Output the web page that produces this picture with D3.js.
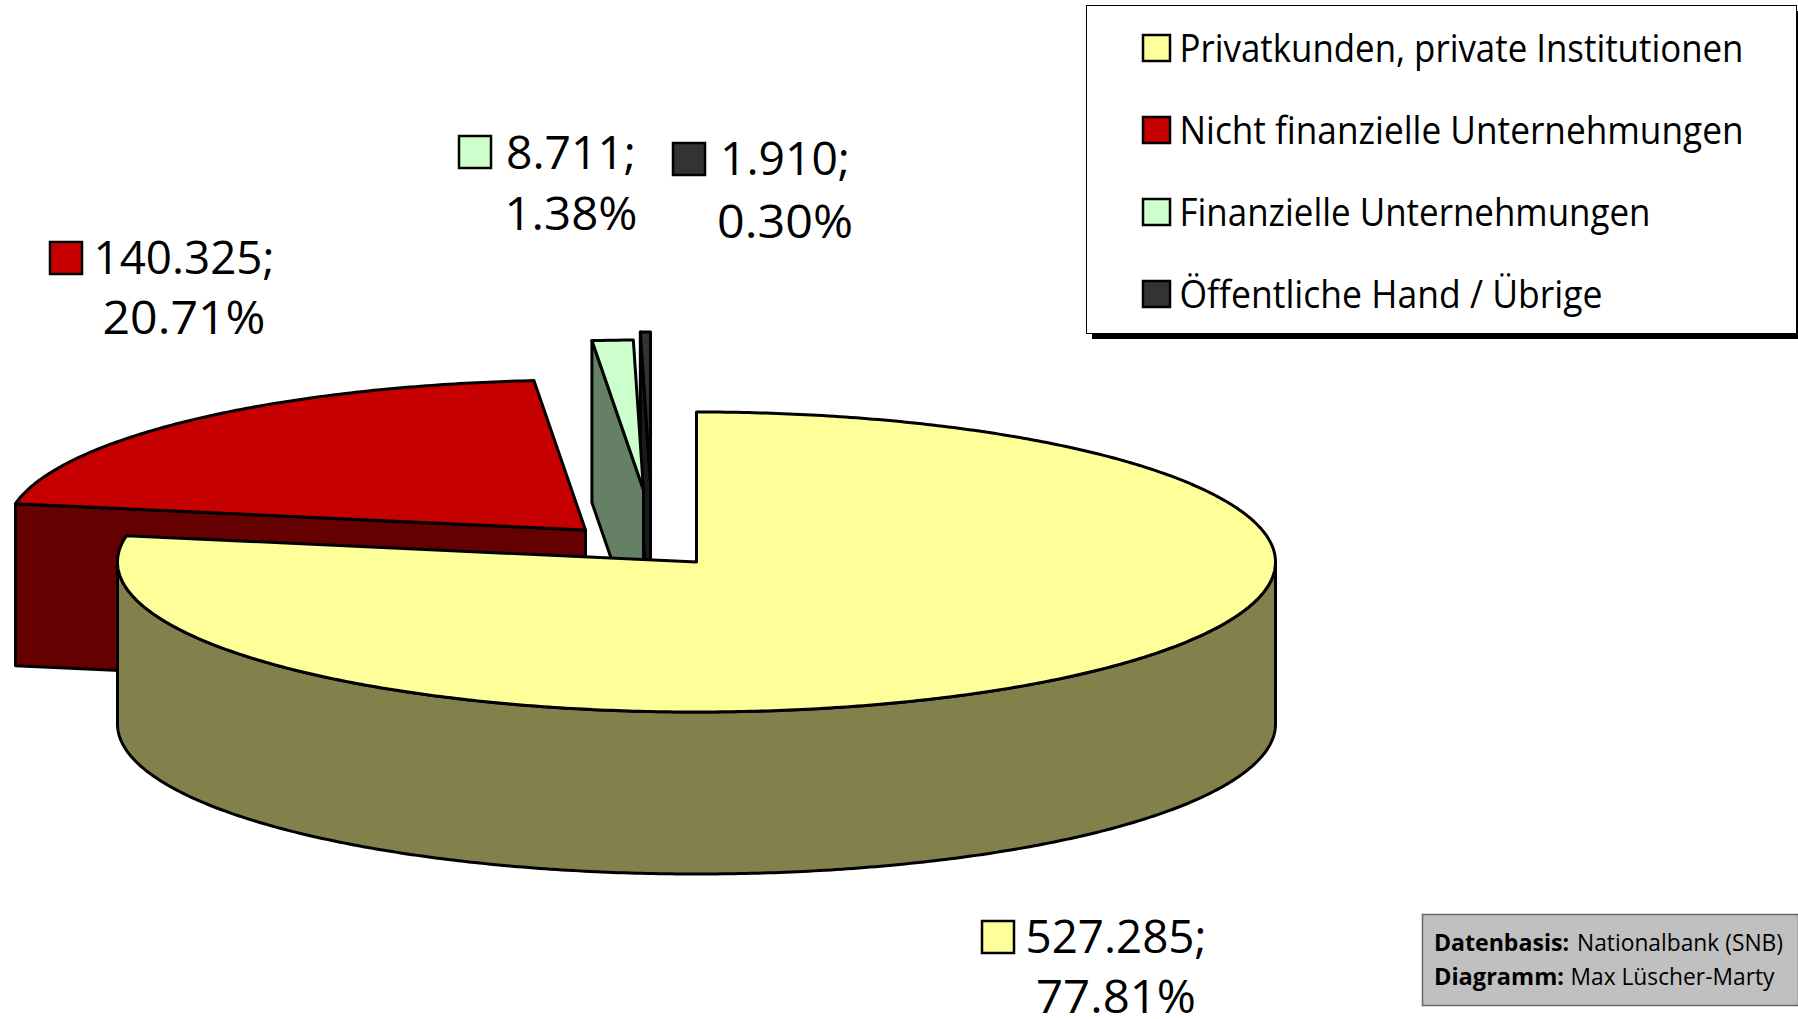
<!DOCTYPE html>
<html>
<head>
<meta charset="utf-8">
<script src="https://cdnjs.cloudflare.com/ajax/libs/d3/7.8.5/d3.min.js"></script>
<style>
    html, body { margin: 0; padding: 0; background: #fff; overflow: hidden; }
    svg { display: block; }
    text { font-family: "Open Sans", sans-serif; fill: #000; }
</style>
</head>
<body>
<svg id="chart" width="1798" height="1019"></svg>
<script>
const categories = ['Privatkunden, private Institutionen', 'Nicht finanzielle Unternehmungen', 'Finanzielle Unternehmungen', 'Öffentliche Hand / Übrige'];
const values = [527285, 140325, 8711, 1910];
const percentLabels = ['77.81%', '20.71%', '1.38%', '0.30%'];
// the printed numbers don't quite add up to the drawn angles, so the wedges use shares
const sliceShares = [77.81, 20.77, 1.14, 0.28];

const topColors = ['#ffff99', '#c60000', '#ccffcc', '#333333'];
const sideColors = ['#82814c', '#640000', '#668066', '#1a1a1a'];

// where each exploded slice ended up
const sliceOffsets = [[0, 0], [-111, -32], [-53, -72], [-46, -80]];

const labelLayout = [
    {swatchX: 982, swatchY: 921, cx: 1116, y1: 953, y2: 1013, w1: 181, w2: 160},
    {swatchX: 50, swatchY: 242, cx: 184, y1: 274, y2: 334, w1: 181, w2: 163},
    {swatchX: 459, swatchY: 136, cx: 571, y1: 169, y2: 230, w1: 130, w2: 133},
    {swatchX: 673, swatchY: 143, cx: 785, y1: 175, y2: 238, w1: 130, w2: 136}
];
const legendWidths = [564, 564, 471, 423];

const centerX = 696.5, centerY = 562, radiusX = 579, radiusY = 150, depth = 162;
const lineW = 3;

const svg = d3.select('#chart');

const pie = d3.pie().sort(null).value(d => d);
const slices = pie(sliceShares).map((d, i) => ({...d, i}));

const xUnit = d3.scaleLinear().domain([-1, 1]).range([centerX - radiusX, centerX + radiusX]);
const yUnit = d3.scaleLinear().domain([-1, 1]).range([centerY - radiusY, centerY + radiusY]);

const rimPoint = (angle, d) => [
    xUnit(Math.sin(angle)) + sliceOffsets[d.i][0],
    yUnit(-Math.cos(angle)) + sliceOffsets[d.i][1]
];
const tipPoint = (d) => [centerX + sliceOffsets[d.i][0], centerY + sliceOffsets[d.i][1]];
const drop = (p) => [p[0], p[1] + depth];

const rimPoints = (from, to, d) => {
    const n = Math.max(2, Math.ceil(Math.abs(to - from) / 0.01));
    return d3.range(n + 1).map(k => rimPoint(from + (to - from) * k / n, d));
};

const outline = d3.line();

const drawShape = (g, points, fill) => {
    g.append('path')
        .attr('d', outline(points) + 'Z')
        .attr('fill', fill)
        .attr('stroke', '#000')
        .attr('stroke-width', lineW)
        .attr('stroke-linejoin', 'round');
};

const pieLayer = svg.append('g').attr('class', 'pie');

// back to front: red, dark, green, then the big yellow slice over them
[1, 3, 2, 0].forEach(i => {
    const d = slices[i];
    const g = pieLayer.append('g').attr('class', `slice slice${i}`);

    if (i === 0) {
        // curved front wall, only the half facing us
        const front = rimPoints(Math.PI / 2, 3 * Math.PI / 2, d);
        drawShape(g, [...front, ...front.map(drop).reverse()], sideColors[i]);
    } else {
        // the cut face on the start side of the slice
        const rim = rimPoint(d.startAngle, d);
        const tip = tipPoint(d);
        drawShape(g, [rim, tip, drop(tip), drop(rim)], sideColors[i]);
    }

    drawShape(g, [tipPoint(d), ...rimPoints(d.startAngle, d.endAngle, d)], topColors[i]);
});

// data labels
const formatValue = d3.formatLocale({decimal: ',', thousands: '.', grouping: [3], currency: ['', '']}).format(',d');

const labels = svg.append('g').attr('class', 'labels')
    .selectAll('g')
    .data(values)
    .enter().append('g');

labels.append('rect')
    .attr('x', (d, i) => labelLayout[i].swatchX)
    .attr('y', (d, i) => labelLayout[i].swatchY)
    .attr('width', 32)
    .attr('height', 32)
    .attr('fill', (d, i) => topColors[i])
    .attr('stroke', '#000')
    .attr('stroke-width', 2.5);

labels.append('text')
    .text(d => `${formatValue(d)};`)
    .attr('x', (d, i) => labelLayout[i].cx)
    .attr('y', (d, i) => labelLayout[i].y1)
    .attr('text-anchor', 'middle')
    .attr('textLength', (d, i) => labelLayout[i].w1)
    .attr('lengthAdjust', 'spacingAndGlyphs')
    .style('font-size', '45px');

labels.append('text')
    .text((d, i) => percentLabels[i])
    .attr('x', (d, i) => labelLayout[i].cx)
    .attr('y', (d, i) => labelLayout[i].y2)
    .attr('text-anchor', 'middle')
    .attr('textLength', (d, i) => labelLayout[i].w2)
    .attr('lengthAdjust', 'spacingAndGlyphs')
    .style('font-size', '45px');

// legend
const legend = svg.append('g').attr('class', 'legend');

legend.append('rect')
    .attr('x', 1092).attr('y', 11)
    .attr('width', 706).attr('height', 328)
    .attr('fill', '#000');

legend.append('rect')
    .attr('x', 1086.5).attr('y', 5.5)
    .attr('width', 710).attr('height', 328)
    .attr('fill', '#fff')
    .attr('stroke', '#000')
    .attr('stroke-width', 1);

const rowY = d3.scalePoint().domain(d3.range(categories.length)).range([48, 294]);

const rows = legend.selectAll('g.row')
    .data(categories)
    .enter().append('g')
    .attr('class', 'row')
    .attr('transform', (d, i) => `translate(0, ${rowY(i)})`);

rows.append('rect')
    .attr('x', 1143).attr('y', -13)
    .attr('width', 27).attr('height', 26)
    .attr('fill', (d, i) => topColors[i])
    .attr('stroke', '#000')
    .attr('stroke-width', 2.5);

rows.append('text')
    .text(d => d)
    .attr('x', 1179.5)
    .attr('y', 14)
    .attr('textLength', (d, i) => legendWidths[i])
    .attr('lengthAdjust', 'spacingAndGlyphs')
    .style('font-size', '38px');

// source box
const note = svg.append('g').attr('class', 'note');

note.append('rect')
    .attr('x', 1422.5).attr('y', 914.5)
    .attr('width', 376).attr('height', 91)
    .attr('fill', '#c0c0c0')
    .attr('stroke', '#666')
    .attr('stroke-width', 1.5);

const noteLines = [['Datenbasis:', 'Nationalbank (SNB)', 951], ['Diagramm:', 'Max Lüscher-Marty', 985]];

noteLines.forEach(([head, rest, y], i) => {
    note.append('text')
        .text(head)
        .attr('x', 1434)
        .attr('y', y)
        .attr('textLength', i === 0 ? 135 : 130)
        .attr('lengthAdjust', 'spacingAndGlyphs')
        .style('font-size', '23px')
        .style('font-weight', 700);
    note.append('text')
        .text(rest)
        .attr('x', i === 0 ? 1577 : 1570.5)
        .attr('y', y)
        .attr('textLength', i === 0 ? 206 : 204)
        .attr('lengthAdjust', 'spacingAndGlyphs')
        .style('font-size', '23px');
});
</script>
</body>
</html>
